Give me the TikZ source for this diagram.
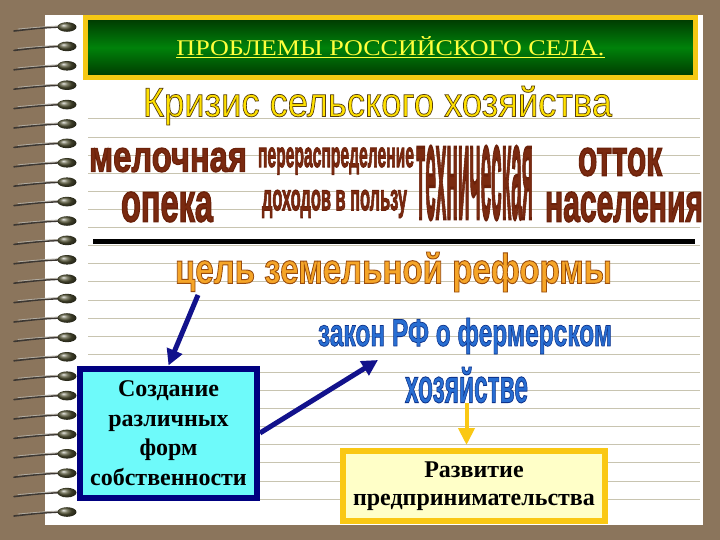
\documentclass[tikz,border=0pt]{standalone}
\usepackage{fontspec}
\setmainfont{Liberation Serif}
\newfontfamily\wasans{Liberation Sans}
\usepackage{graphicx}
\usetikzlibrary{arrows.meta}
\definecolor{bgbrown}{RGB}{139,117,92}
\definecolor{rulecol}{RGB}{200,196,176}
\definecolor{gold}{RGB}{245,200,20}
\definecolor{titleyellow}{RGB}{255,255,60}
\definecolor{dkgreen}{RGB}{0,55,0}
\definecolor{mdgreen}{RGB}{0,130,10}
\definecolor{kyellow}{RGB}{255,225,0}
\definecolor{wbrown}{RGB}{122,42,16}
\definecolor{worange}{RGB}{245,165,40}
\definecolor{wblue}{RGB}{40,110,210}
\definecolor{arrowblue}{RGB}{18,18,140}
\definecolor{cyanfill}{RGB}{110,250,250}
\definecolor{navy}{RGB}{0,0,128}
\definecolor{paleyellow}{RGB}{255,255,200}
\definecolor{boxgold}{RGB}{250,200,20}
\definecolor{wiredark}{RGB}{60,55,50}
\definecolor{wirelight}{RGB}{175,170,160}
\definecolor{holecol}{RGB}{85,85,55}
\newcommand\outl[3]{{\special{pdf:literal direct #2 RG #3 w 2 Tr}#1\special{pdf:literal direct 0 Tr}}}
\newcommand\wa[6]{\resizebox*{#1pt}{#2pt}{\color{#3}\outl{#6}{#4}{#5}}}
\newcommand\brownfont{\fontsize{30}{30}\wasans\bfseries}
\tikzset{
  wa/.style={inner sep=0pt, anchor=center},
  rule/.style={draw=rulecol, line width=1pt},
  titlebox/.style={draw=gold, line width=5pt, minimum width=610pt, minimum height=60pt,
    inner sep=0pt, top color=dkgreen, bottom color=dkgreen, middle color=mdgreen,
    text=titleyellow, font=\fontsize{22}{22}\selectfont},
  bluebox/.style={draw=navy, fill=cyanfill, line width=6pt, minimum width=177pt,
    minimum height=129pt, inner sep=0pt, align=center,
    font=\bfseries\fontsize{24}{29.5}\selectfont},
  yellowbox/.style={draw=boxgold, fill=paleyellow, line width=6pt, minimum width=262pt,
    minimum height=70pt, inner sep=0pt, align=center,
    font=\bfseries\fontsize{24}{28}\selectfont},
  barrow/.style={draw=arrowblue, line width=5pt, -{Triangle[length=16pt,width=16pt]}},
  yarrow/.style={draw=boxgold, line width=4pt, -{Triangle[length=17pt,width=16pt]}},
}
\begin{document}
\begin{tikzpicture}[x=1pt,y=-1pt]
\fill[bgbrown] (0,0) rectangle (720,540);
\useasboundingbox (0,0) rectangle (720,540);
\fill[white] (45,15) rectangle (703,525);
\foreach \k in {0,...,21} {
  \draw[rule] (88,{119+18.1*\k}) -- (700,{119+18.1*\k});
}
\foreach \k in {0,...,25} {
  \pgfmathsetmacro\yy{27+19.4*\k}
  \draw[wiredark, line width=1.6pt, line cap=round] (60,\yy) .. controls (40,\yy+1) .. (14,\yy+4);
  \draw[wirelight, line width=0.8pt, line cap=round] (58,\yy-1) .. controls (40,\yy) .. (18,\yy+2);
  \shade[ball color=holecol] (67,\yy) ellipse [x radius=9.5pt, y radius=4.8pt];
}
\node[titlebox] (title) at (390.5,47.5) {\underline{\resizebox{428pt}{19pt}{ПРОБЛЕМЫ РОССИЙСКОГО СЕЛА.}}};
\node[wa] (krizis) at (377.5,105.5) {\wa{469}{39}{kyellow}{0.35 0.25 0.05}{0.7}{\fontsize{38}{38}\wasans Кризис сельского хозяйства}};
\node[wa] (melo) at (168,160) {\wa{158}{24}{wbrown}{0.42 0.13 0.04}{0.9}{\brownfont мелочная}};
\node[wa] (opeka) at (167,207) {\wa{92}{30}{wbrown}{0.42 0.13 0.04}{0.9}{\brownfont опека}};
\node[wa] (perer) at (336,161) {\wa{156}{27}{wbrown}{0.42 0.13 0.04}{0.9}{\brownfont перераспределение}};
\node[wa] (dohod) at (334.5,204) {\wa{145}{28}{wbrown}{0.42 0.13 0.04}{0.9}{\brownfont доходов в пользу}};
\node[wa] (tekh) at (474.5,183) {\wa{117}{74}{wbrown}{0.42 0.13 0.04}{0.7}{\brownfont техническая}};
\node[wa] (ottok) at (620,162) {\wa{84}{28}{wbrown}{0.42 0.13 0.04}{0.9}{\brownfont отток}};
\node[wa] (nasel) at (624,207) {\wa{158}{30}{wbrown}{0.42 0.13 0.04}{0.9}{\brownfont населения}};
\draw[line width=5pt] (93,241) -- (695,241);
\node[wa] (goal) at (393.5,272) {\wa{437}{40}{worange}{0.6 0.3 0.05}{0.7}{\brownfont цель земельной реформы}};
\node[wa] (zakon) at (465,336) {\wa{294}{36}{wblue}{0.05 0.2 0.55}{0.6}{\brownfont закон РФ о фермерском}};
\node[wa] (khoz) at (466.5,385) {\wa{123}{36}{wblue}{0.05 0.2 0.55}{0.6}{\brownfont хозяйстве}};
\node[bluebox] (create) at (168.5,433) {Создание\\различных\\форм\\собственности};
\node[yellowbox] (develop) at (474,486) {Развитие\\предпринимательства};
\coordinate (a1s) at (198,295);
\coordinate (a2e) at (378,360);
\draw[barrow] (a1s) -- (create.north);
\draw[barrow] (create.east) -- (a2e);
\draw[yarrow, shorten >=3pt] (khoz.south) -- (khoz.south |- develop.north);
\end{tikzpicture}
\end{document}
